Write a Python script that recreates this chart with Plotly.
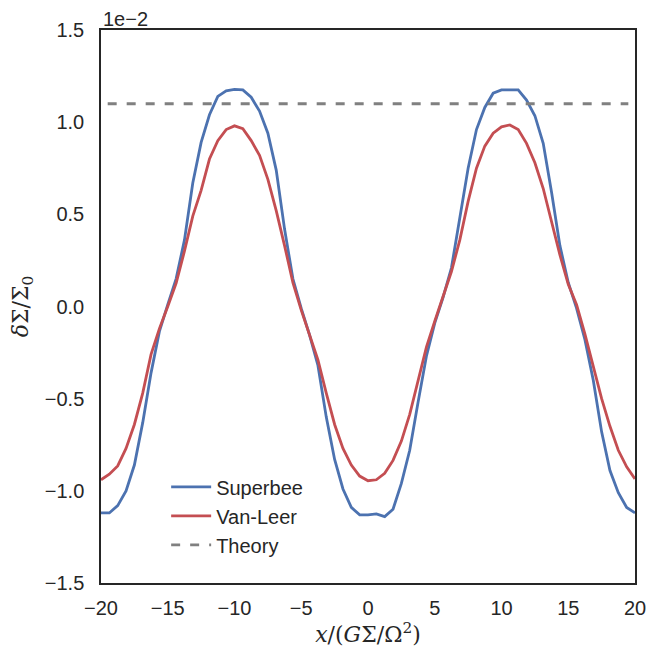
import numpy as np
import plotly.graph_objects as go

# x grid (uniform, 0.625 spacing)
x = [-20 + 0.625 * k for k in range(65)]

superbee = [
    -1.12, -1.12, -1.08, -1.00, -0.86, -0.63, -0.36, -0.135, 0.01, 0.15,
    0.36, 0.67, 0.89, 1.04, 1.14, 1.17, 1.178, 1.175, 1.135, 1.06,
    0.94, 0.74, 0.42, 0.15, -0.01, -0.155, -0.32, -0.60, -0.83, -0.99,
    -1.09, -1.13, -1.13, -1.125, -1.14, -1.10, -0.96, -0.78, -0.52, -0.27,
    -0.09, 0.05, 0.21, 0.49, 0.75, 0.96, 1.08, 1.157, 1.175, 1.175,
    1.175, 1.12, 1.035, 0.885, 0.62, 0.33, 0.13, -0.01, -0.18, -0.40,
    -0.68, -0.89, -1.01, -1.09, -1.12,
]

vanleer = [
    -0.94, -0.91, -0.865, -0.77, -0.64, -0.47, -0.26, -0.12, 0.0, 0.125,
    0.30, 0.49, 0.63, 0.80, 0.90, 0.96, 0.98, 0.965, 0.90, 0.82,
    0.69, 0.52, 0.33, 0.13, -0.02, -0.15, -0.29, -0.47, -0.64, -0.77,
    -0.86, -0.92, -0.945, -0.94, -0.905, -0.835, -0.73, -0.585, -0.40, -0.22,
    -0.08, 0.05, 0.19, 0.36, 0.57, 0.75, 0.87, 0.94, 0.975, 0.985,
    0.96, 0.885, 0.78, 0.64, 0.46, 0.28, 0.12, 0.01, -0.15, -0.32,
    -0.50, -0.65, -0.78, -0.87, -0.935,
]

theory_x = [-19.5, 19.5]
theory_y = [1.10, 1.10]

x_ticks = [-20, -15, -10, -5, 0, 5, 10, 15, 20]
y_ticks = [-1.5, -1.0, -0.5, 0.0, 0.5, 1.0, 1.5]

FONT = "Liberation Sans, Arial, sans-serif"
AX = "#262626"

fig = go.Figure()
fig.add_trace(go.Scatter(x=x, y=superbee, mode="lines", name="Superbee",
                         line=dict(color="#4C72B0", width=2.8)))
fig.add_trace(go.Scatter(x=x, y=vanleer, mode="lines", name="Van-Leer",
                         line=dict(color="#C44E52", width=2.8)))
fig.add_trace(go.Scatter(x=theory_x, y=theory_y, mode="lines", name="Theory",
                         line=dict(color="#808080", width=2.8, dash="9px,10px")))

fig.update_layout(
    width=652, height=650,
    margin=dict(l=101, r=17, t=30, b=67),
    paper_bgcolor="white", plot_bgcolor="white",
    font=dict(family=FONT, size=20, color=AX),
    showlegend=True,
    legend=dict(x=0.122, y=0.209, xanchor="left", yanchor="top",
                bgcolor="rgba(0,0,0,0)", font=dict(size=20, color=AX),
                tracegroupgap=0, itemwidth=40),
    xaxis=dict(range=[-20, 20], tickvals=x_ticks, automargin=False,
               showgrid=False, zeroline=False,
               showline=True, mirror=True, linecolor=AX, linewidth=1.5,
               ticks="", ticklabelstandoff=6,
               tickfont=dict(size=20, color=AX),
               title=dict(text="<i>x</i>/(<i>G</i>Σ/Ω<sup>2</sup>)",
                          font=dict(family="DejaVu Serif, serif", size=22, color=AX),
                          standoff=8)),
    yaxis=dict(range=[-1.5, 1.5], tickvals=y_ticks, tickformat=".1f", automargin=False,
               showgrid=False, zeroline=False,
               showline=True, mirror=True, linecolor=AX, linewidth=1.5,
               ticks="", ticklabelstandoff=11,
               tickfont=dict(size=20, color=AX),
               title=dict(text="<i>δ</i>Σ/Σ<sub>0</sub>",
                          font=dict(family="DejaVu Serif, serif", size=22, color=AX),
                          standoff=10)),
    annotations=[dict(text="1e−2", xref="paper", yref="paper", x=0.0, y=1.0,
                      xanchor="left", yanchor="bottom", showarrow=False,
                      font=dict(family=FONT, size=20, color=AX), yshift=-2)],
)

fig.write_html("out.html")
